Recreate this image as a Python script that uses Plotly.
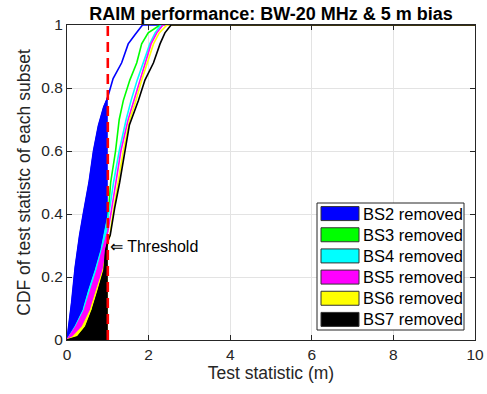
import numpy as np
import plotly.graph_objects as go

# ---- data ----
threshold = 1.0
series_names = ["BS2 removed", "BS3 removed", "BS4 removed", "BS5 removed", "BS6 removed", "BS7 removed"]
series_colors = ["#0000ff", "#00ff00", "#00ffff", "#ff00ff", "#ffff00", "#000000"]

bs2_x = [0.0, 0.03, 0.115, 0.20, 0.25, 0.31, 0.40, 0.54, 0.65, 0.77, 0.90, 0.97, 1.04, 1.13, 1.34, 1.50, 1.67, 1.85, 10.0]
bs2_y = [0.0, 0.03, 0.12, 0.23, 0.286, 0.333, 0.40, 0.50, 0.60, 0.68, 0.74, 0.76, 0.79, 0.83, 0.88, 0.94, 0.97, 1.00, 1.00]

bs3_x = [0.0, 0.10, 0.30, 0.55, 0.71, 0.85, 0.95, 1.02, 1.07, 1.19, 1.28, 1.38, 1.54, 1.71, 1.83, 1.99, 2.28, 10.0]
bs3_y = [0.0, 0.01, 0.042, 0.095, 0.159, 0.222, 0.30, 0.42, 0.50, 0.60, 0.70, 0.76, 0.825, 0.88, 0.94, 0.975, 1.00, 1.00]

bs4_x = [0.0, 0.05, 0.20, 0.40, 0.54, 0.70, 0.84, 0.96, 1.05, 1.14, 1.28, 1.45, 1.57, 1.72, 1.87, 2.03, 2.16, 2.30, 10.0]
bs4_y = [0.0, 0.01, 0.042, 0.095, 0.159, 0.222, 0.286, 0.365, 0.42, 0.50, 0.60, 0.70, 0.76, 0.825, 0.88, 0.94, 0.975, 1.00, 1.00]

bs5_x = [0.0, 0.05, 0.22, 0.43, 0.58, 0.74, 0.87, 1.00, 1.10, 1.20, 1.32, 1.50, 1.64, 1.79, 1.91, 2.06, 2.20, 2.35, 10.0]
bs5_y = [0.0, 0.01, 0.042, 0.095, 0.159, 0.222, 0.286, 0.344, 0.42, 0.50, 0.60, 0.70, 0.76, 0.825, 0.88, 0.94, 0.975, 1.00, 1.00]

bs6_x = [0.0, 0.15, 0.38, 0.58, 0.73, 0.89, 0.99, 1.05, 1.15, 1.26, 1.38, 1.54, 1.69, 1.83, 1.97, 2.12, 2.26, 2.45, 10.0]
bs6_y = [0.0, 0.01, 0.042, 0.095, 0.159, 0.222, 0.30, 0.333, 0.42, 0.50, 0.60, 0.70, 0.76, 0.825, 0.88, 0.94, 0.975, 1.00, 1.00]

bs7_x = [0.0, 0.12, 0.26, 0.46, 0.62, 0.77, 0.91, 0.95, 1.01, 1.06, 1.17, 1.29, 1.42, 1.53, 1.75, 1.91, 2.12, 2.28, 2.40, 2.55, 10.0]
bs7_y = [0.0, 0.004, 0.01, 0.042, 0.095, 0.159, 0.222, 0.286, 0.317, 0.333, 0.42, 0.50, 0.60, 0.683, 0.76, 0.825, 0.88, 0.94, 0.975, 1.00, 1.00]

x_ticks = [0, 2, 4, 6, 8, 10]
y_ticks = [0, 0.2, 0.4, 0.6, 0.8, 1]
y_tick_labels = ["0", "0.2", "0.4", "0.6", "0.8", "1"]

series_x = [bs2_x, bs3_x, bs4_x, bs5_x, bs6_x, bs7_x]
series_y = [bs2_y, bs3_y, bs4_y, bs5_y, bs6_y, bs7_y]

# ---- figure ----
W, H = 487, 394
PL, PR, PT, PB = 67, 475, 25, 340          # plot area in window pixels
ML, MR, MT, MB = PL, W - PR, PT, H - PB
FONT = "Liberation Sans, Arial, Helvetica, sans-serif"
TXT = "#262626"

fig = go.Figure()

for name, col, xs, ys in zip(series_names, series_colors, series_x, series_y):
    xs = np.asarray(xs, float)
    ys = np.asarray(ys, float)
    keep = xs < threshold
    fx = np.append(xs[keep], threshold)
    fy = np.append(ys[keep], np.interp(threshold, xs, ys))
    fig.add_trace(go.Scatter(x=fx, y=fy, mode="lines", fill="tozeroy",
                             fillcolor=col, line=dict(color=col, width=1),
                             showlegend=False, hoverinfo="skip"))
    fig.add_trace(go.Scatter(x=xs, y=ys, mode="lines", name=name,
                             line=dict(color=col, width=1.6), showlegend=False))

# threshold line
fig.add_trace(go.Scatter(x=[threshold, threshold], y=[0, 1], mode="lines",
                         line=dict(color="#ff0000", width=2.6, dash="10px,6px"),
                         showlegend=False, hoverinfo="skip"))

fig.add_annotation(x=threshold, y=0.296, xref="x", yref="y", text="⇐ Threshold",
                   showarrow=False, xanchor="left", yanchor="middle",
                   font=dict(family=FONT, size=16, color="#000000"))

# custom legend (MATLAB style patches), positions in window pixels
pw = PR - PL
ph = PB - PT
def px2x(p):
    return (p - PL) / pw
def py2y(p):
    return (PB - p) / ph

box_l, box_r, box_t, box_b = 317, 464, 203, 330
fig.add_shape(type="rect", xref="paper", yref="paper",
              x0=px2x(box_l), x1=px2x(box_r), y0=py2y(box_b), y1=py2y(box_t),
              line=dict(color="#262626", width=1), fillcolor="#ffffff", layer="above")
row_h = (box_b - box_t) / len(series_names)
for i, (name, col) in enumerate(zip(series_names, series_colors)):
    cy = box_t + row_h * (i + 0.5)
    fig.add_shape(type="rect", xref="paper", yref="paper",
                  x0=px2x(321), x1=px2x(359), y0=py2y(cy + 7), y1=py2y(cy - 7),
                  line=dict(color="#333333", width=1), fillcolor=col, layer="above")
    fig.add_annotation(x=px2x(361), y=py2y(cy), xref="paper", yref="paper",
                       text=name, showarrow=False, xanchor="left", yanchor="middle",
                       font=dict(family=FONT, size=16.5, color="#000000"))

axis_common = dict(showgrid=True, gridcolor="#e3e3e3", gridwidth=1,
                   showline=True, linecolor=TXT, linewidth=1, mirror="ticks",
                   ticks="inside", ticklen=5, tickcolor=TXT, zeroline=False,
                   automargin=False,
                   tickfont=dict(family=FONT, size=15.5, color=TXT))

fig.update_xaxes(range=[0, 10], tickvals=x_ticks, ticktext=[str(v) for v in x_ticks],
                 title=dict(text="Test statistic (m)", font=dict(family=FONT, size=17.5, color=TXT), standoff=4),
                 **axis_common)
fig.update_yaxes(range=[0, 1], tickvals=y_ticks, ticktext=y_tick_labels,
                 title=dict(text="CDF of test statistc of each subset", font=dict(family=FONT, size=17.5, color=TXT), standoff=6),
                 **axis_common)

fig.update_layout(
    width=W, height=H,
    margin=dict(l=ML, r=MR, t=MT, b=MB, autoexpand=False),
    paper_bgcolor="#ffffff", plot_bgcolor="#ffffff",
    title=dict(text="<b>RAIM performance: BW-20 MHz & 5 m bias</b>",
               x=(PL + pw / 2) / W, xanchor="center", y=1 - 14 / H, yanchor="middle",
               font=dict(family=FONT, size=18, color="#000000")),
    showlegend=False,
)

# remove the browser's default 8px body margin so the figure fills the window
fig.write_html("out.html", config={"displayModeBar": False},
               post_script="document.body.style.margin='0px';")
